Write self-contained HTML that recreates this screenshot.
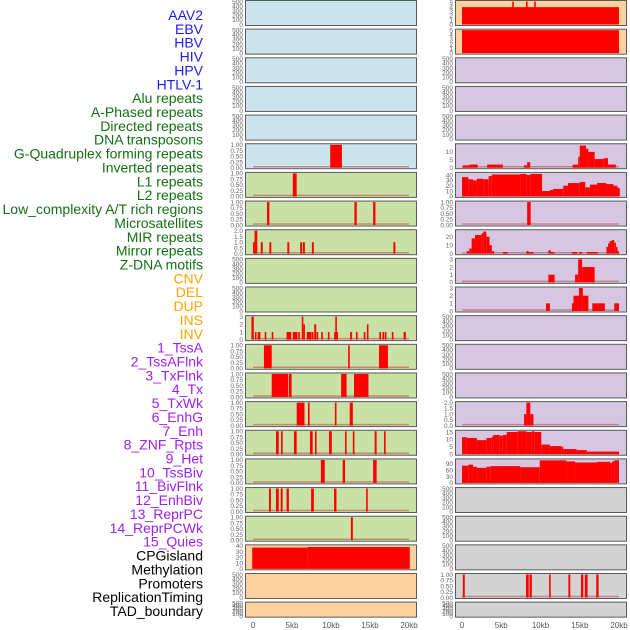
<!DOCTYPE html>
<html><head><meta charset="utf-8"><style>
html,body{margin:0;padding:0;background:#fff;width:630px;height:630px;overflow:hidden}
svg{display:block}
.lbl{font-family:"Liberation Sans",sans-serif;font-size:14px}
.tk{font-family:"Liberation Sans",sans-serif;font-size:6.5px;fill:#666}
.xt{font-family:"Liberation Sans",sans-serif;font-size:8px;fill:#555}
</style></head><body>
<svg id="chart" width="630" height="630" viewBox="0 0 630 630" xmlns="http://www.w3.org/2000/svg">
<g id="labels"></g>
<g id="panels"></g>
<g id="xaxes"></g>
</svg>
<script>
// ---- data ----
const trackNames = ["AAV2","EBV","HBV","HIV","HPV","HTLV-1","Alu repeats","A-Phased repeats","Directed repeats","DNA transposons","G-Quadruplex forming repeats","Inverted repeats","L1 repeats","L2 repeats","Low_complexity A/T rich regions","Microsatellites","MIR repeats","Mirror repeats","Z-DNA motifs","CNV","DEL","DUP","INS","INV","1_TssA","2_TssAFlnk","3_TxFlnk","4_Tx","5_TxWk","6_EnhG","7_Enh","8_ZNF_Rpts","9_Het","10_TssBiv","11_BivFlnk","12_EnhBiv","13_ReprPC","14_ReprPCWk","15_Quies","CPGisland","Methylation","Promoters","ReplicationTiming","TAD_boundary"];
const trackGroups = ["v","v","v","v","v","v","r","r","r","r","r","r","r","r","r","r","r","r","r","s","s","s","s","s","c","c","c","c","c","c","c","c","c","c","c","c","c","c","c","o","o","o","o","o"];
const xTicks = [0,5,10,15,20];
const xTickLabels = ["0","5kb","10kb","15kb","20kb"];
// segments: [startKb, endKb, value]
const row0R = [[0,20,4],[6.4,6.6,5.3],[8.15,8.3,5.3],[9.2,9.35,5.3]];
const row1R = [[0,20,5]];
const row5L = [[9.9,11.4,1]];
const row5R = [[0.1,0.9,1.5],[0.9,2.0,2],[3.2,5.2,2],[7.9,8.3,1.5],[8.3,8.7,3.5],[14.1,14.8,2],[14.8,15.0,7],[15.0,15.8,14],[15.8,16.1,12],[16.1,16.9,10],[16.9,18.0,5.5],[18.0,18.6,6],[18.6,19.6,2]];
const row6L = [[5.1,5.6,1]];
const row6R = [[0,0.8,36],[0.8,1.4,32],[1.4,1.9,30],[1.9,2.7,33],[2.7,3.4,32],[3.4,3.8,38],[3.8,7.4,41],[7.4,8.2,42],[8.2,8.7,40],[8.7,10.2,42],[10.2,11.2,10],[11.2,11.6,12],[11.6,12.9,14],[12.9,13.5,20],[13.5,15.0,25],[15.0,15.7,27],[15.7,16.3,17],[16.3,17.2,22],[17.2,18.4,25],[18.4,19.3,23],[19.3,19.8,20],[19.8,20.1,16]];
const row7L = [[1.8,2.1,1],[13.0,13.3,1],[15.4,15.7,1]];
const row7R = [[8.3,8.75,1]];
const row8L = [[0.2,0.55,2],[0.0,0.2,1],[1.0,1.25,1],[2.1,2.35,1],[4.4,4.65,1],[6.05,6.3,1],[6.4,6.65,1],[7.55,7.8,1],[18.0,18.25,1]];
const row8R = [[0.6,0.93,3],[0.93,1.23,6],[1.23,1.66,18],[1.66,2.5,22],[2.5,2.7,24],[2.7,3.1,26],[3.1,3.5,20],[3.5,3.8,10],[3.8,4.1,3],[5.2,5.8,2],[8.2,8.5,3],[8.5,9.1,2],[11.0,11.3,4],[11.3,11.8,2],[14.0,14.7,2],[14.9,15.3,2],[15.9,17.3,2],[18.4,18.6,8],[18.6,18.8,12],[18.8,19.1,15],[19.1,19.4,16],[19.4,19.6,13],[19.6,19.8,8],[19.8,20.0,3]];
const row9R = [[11.0,11.8,1],[14.4,14.8,1],[14.8,15.3,3],[15.3,16.9,2]];
const row10R = [[10.7,11.2,1],[14.0,14.2,1],[14.2,14.9,2],[14.9,15.4,3],[15.4,16.1,2],[16.6,18.2,1],[19.4,20.0,1]];
const row11L = [[-0.2,0.1,3],[0.25,0.45,1],[0.6,0.95,1],[1.5,1.7,1],[2.4,2.6,1],[4.3,4.9,1],[5.1,5.7,1],[5.8,5.95,1],[6.25,6.45,3],[6.45,6.6,2],[6.9,7.5,1],[7.55,7.75,1],[7.85,8.1,2],[8.15,8.35,1],[8.75,8.9,1],[9.6,9.8,1],[10.4,10.9,1],[10.55,10.75,3],[12.45,12.7,1],[13.2,13.4,1],[14.2,14.4,1],[14.6,14.8,2],[16.2,16.4,1],[16.6,16.8,1],[16.9,17.1,1],[17.8,18.0,1],[19.3,19.6,1]];
const row12L = [[1.4,2.4,1],[12.2,12.4,1],[16.15,17.3,1]];
const row13L = [[2.4,4.5,1],[4.6,4.95,1],[11.3,12.0,1],[12.95,14.8,1]];
const row14L = [[5.6,6.6,1],[7.05,7.25,1],[10.5,10.7,1],[12.4,12.8,1]];
const row14R = [[7.9,8.2,1],[8.2,8.7,2],[8.7,9.1,1]];
const row15L = [[2.95,3.3,1],[3.6,3.8,1],[5.25,5.6,1],[7.3,7.65,1],[7.95,8.15,1],[9.75,10.1,1],[11.8,12.0,1],[12.8,13.0,1],[15.6,15.85,1],[16.8,17.0,1]];
const row15R = [[0,0.6,11.5],[0.6,1.9,11],[1.9,3.1,9.5],[3.1,3.8,11],[3.8,4.0,12],[4.0,4.8,13],[4.8,5.2,12.5],[5.2,5.7,13],[5.7,7.1,15],[7.1,8.2,15.5],[8.2,8.9,15],[8.9,9.2,15.5],[9.2,10.1,15],[10.1,11.2,6.5],[11.2,12.7,5.5],[12.7,12.9,5],[12.9,14.6,3.5],[14.6,15.9,2.8],[15.9,20.0,1.8]];
const row16L = [[8.7,9.2,1],[11.5,11.8,1],[15.4,15.85,1]];
const row16R = [[0,0.8,80],[0.8,1.4,85],[1.4,1.9,75],[1.9,3.1,70],[3.1,3.6,75],[3.6,7.4,78],[7.4,9.9,73],[9.9,13.3,105],[13.3,14.4,100],[14.4,17.2,95],[17.2,18.9,98],[18.9,19.1,92],[19.1,19.4,100],[19.4,20.0,105]];
const row17L = [[2.05,2.3,1],[2.95,3.3,1],[3.55,3.8,1],[4.3,4.6,1],[7.45,7.8,1],[10.4,10.7,1],[14.5,14.7,1]];
const row18L = [[12.55,12.8,1]];
const row19L = [[-0.1,7.0,37],[7.0,20.1,38]];
const row20R = [[0.1,0.35,1],[8.15,8.5,1],[8.6,8.9,1],[11.1,11.3,1],[13.55,13.8,1],[15.15,15.45,1],[15.65,16.0,1],[17.1,17.4,1]];

// ---- styling / layout ----
const groupColor = {v:"#1c1cf0",r:"#137013",s:"#ffa500",c:"#a020f0",o:"#000000"};
const BG = {b:"#c9e4ec",g:"#c9e1a5",p:"#ffd19f",l:"#d6c6e2",y:"#d3d3d3"};
const E5 = {max:500,ticks:[0,100,200,300,400,500],dp:0};
const U1 = {max:1,ticks:[0,0.25,0.5,0.75,1],dp:2};
const rows = [
 {bl:"b",br:"p",L:null,R:row0R,aL:E5,aR:{max:5.3,ticks:[0,1,2,3,4,5],dp:0}},
 {bl:"b",br:"p",L:null,R:row1R,aL:E5,aR:{max:5,ticks:[0,1,2,3,4,5],dp:0}},
 {bl:"b",br:"l",L:null,R:null,aL:E5,aR:E5},
 {bl:"b",br:"l",L:null,R:null,aL:E5,aR:E5},
 {bl:"b",br:"l",L:null,R:null,aL:E5,aR:E5},
 {bl:"b",br:"l",L:row5L,R:row5R,aL:U1,aR:{max:14.5,ticks:[0,5,10],dp:0}},
 {bl:"g",br:"l",L:row6L,R:row6R,aL:U1,aR:{max:43,ticks:[0,10,20,30,40],dp:0}},
 {bl:"g",br:"l",L:row7L,R:row7R,aL:U1,aR:U1},
 {bl:"g",br:"l",L:row8L,R:row8R,aL:{max:2,ticks:[0,0.5,1,1.5,2],dp:1},aR:{max:27,ticks:[0,10,20],dp:0}},
 {bl:"g",br:"l",L:null,R:row9R,aL:E5,aR:{max:3,ticks:[0,1,2,3],dp:0}},
 {bl:"g",br:"l",L:null,R:row10R,aL:E5,aR:{max:3,ticks:[0,1,2,3],dp:0}},
 {bl:"g",br:"l",L:row11L,R:null,aL:{max:3,ticks:[0,1,2,3],dp:0},aR:E5},
 {bl:"g",br:"l",L:row12L,R:null,aL:U1,aR:E5},
 {bl:"g",br:"l",L:row13L,R:null,aL:U1,aR:E5},
 {bl:"g",br:"l",L:row14L,R:row14R,aL:U1,aR:{max:2,ticks:[0,0.5,1,1.5,2],dp:1}},
 {bl:"g",br:"l",L:row15L,R:row15R,aL:U1,aR:{max:15.5,ticks:[0,5,10,15],dp:0}},
 {bl:"g",br:"l",L:row16L,R:row16R,aL:U1,aR:{max:107,ticks:[0,30,60,90],dp:0}},
 {bl:"g",br:"y",L:row17L,R:null,aL:U1,aR:E5},
 {bl:"g",br:"y",L:row18L,R:null,aL:U1,aR:E5},
 {bl:"p",br:"y",L:row19L,R:null,aL:{max:40,ticks:[0,10,20,30,40],dp:0},aR:E5},
 {bl:"p",br:"y",L:null,R:row20R,aL:E5,aR:U1},
 {bl:"p",br:"y",L:null,R:null,aL:E5,aR:E5}
];
const NS="http://www.w3.org/2000/svg";
function mk(tag,attrs,parent){const e=document.createElementNS(NS,tag);for(const k in attrs)e.setAttribute(k,attrs[k]);parent.appendChild(e);return e;}
const cols = [{x0:245,x1:416,z:253,s:7.8},{x0:455,x1:626,z:462,s:7.85}];
function xScale(c,kb){return cols[c].z+kb*cols[c].s;}

// labels
const lg=document.getElementById('labels');
trackNames.forEach((n,i)=>{
 const t=mk('text',{x:203,y:20+i*13.86,'text-anchor':'end',class:'lbl',fill:groupColor[trackGroups[i]]},lg);
 t.textContent=n;
 
 
});

// panels
const pg=document.getElementById('panels');
rows.forEach((r,i)=>{
 const top=i*28.65, h=(i===21)?15:25;
 [0,1].forEach(c=>{
  const segs=c===0?r.L:r.R, ax=c===0?r.aL:r.aR, bg=c===0?r.bl:r.br;
  const g=mk('g',{},pg);
  
  
  const C=cols[c];
  mk('rect',{x:C.x0+0.5,y:top+0.5,width:C.x1-C.x0,height:h,fill:BG[bg],stroke:'#5a5a5a','stroke-width':1},g);
  const yb=top+h-0.5, yt=top+1.5;
  const yS=v=>yb-(v/ax.max)*(yb-yt);
  ax.ticks.forEach(v=>{
   const t=mk('text',{x:C.x0-2,y:yS(v)+2.3,'text-anchor':'end',class:'tk'},g);
   t.textContent=v.toFixed(ax.dp);
   
   
  });
  if(segs){
   mk('line',{x1:xScale(c,0),x2:xScale(c,20),y1:yb-1,y2:yb-1,stroke:'#c05050','stroke-opacity':0.6,'stroke-width':1.5},g);
   segs.forEach(s=>{
    let x1=xScale(c,s[0]), x2=xScale(c,s[1]); if(x2-x1<1.6)x2=x1+1.6;
    const b=mk('rect',{x:x1,y:yS(s[2]),width:x2-x1,height:yb-yS(s[2]),fill:'#ff0000'},g);
    
    
   });
  }
 });
});

// x axes
const xg=document.getElementById('xaxes');
[0,1].forEach(c=>{
 xTicks.forEach((v,k)=>{
  const t=mk('text',{x:xScale(c,v),y:628,'text-anchor':'middle',class:'xt'},xg);
  t.textContent=xTickLabels[k];
  
  
 });
});
</script>
</body></html>
